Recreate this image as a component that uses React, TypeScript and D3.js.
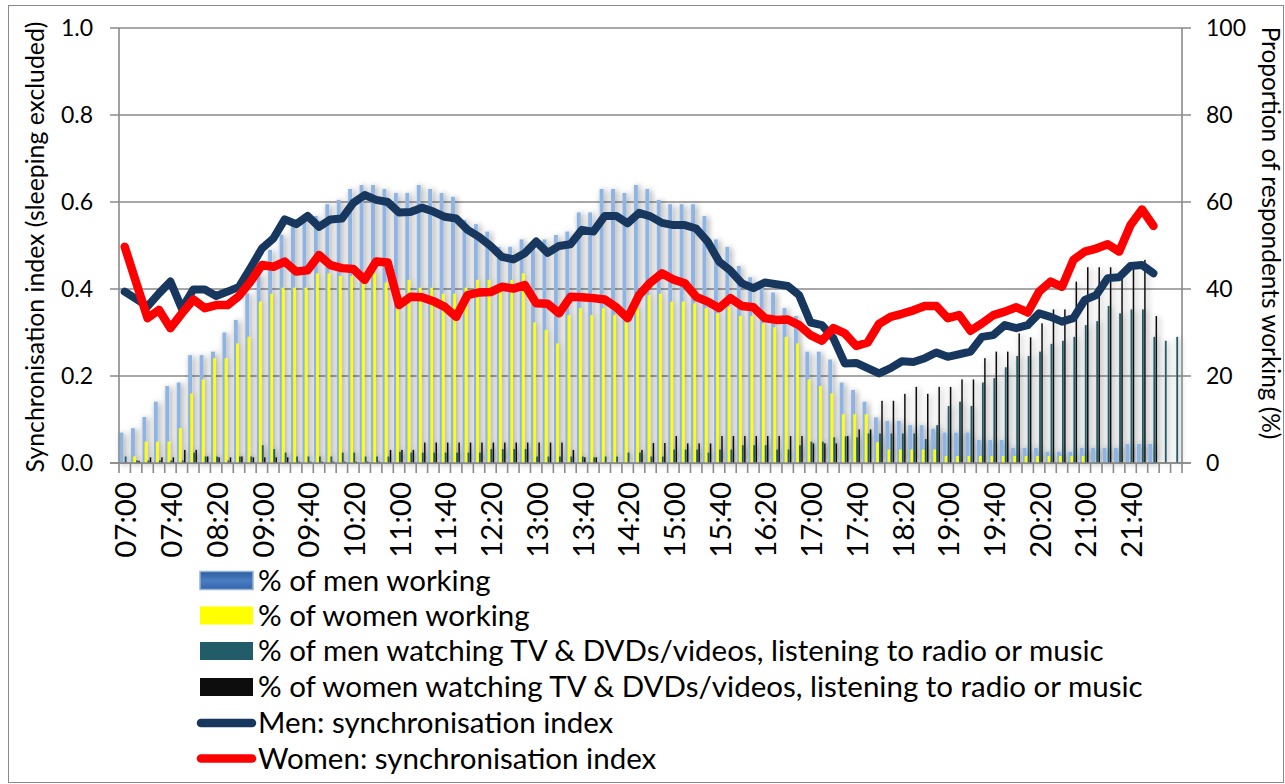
import { useEffect, useRef } from 'react'
import * as d3 from 'd3'

// 10-minute slots from 07:00 to 22:20
const slots = d3.range(93).map((i) => {
  const m = 420 + i * 10
  return `${String(Math.floor(m / 60)).padStart(2, '0')}:${String(m % 60).padStart(2, '0')}`
})

// right axis: % of respondents
const menWorking = [
  7.0, 8.0, 10.6, 14.1, 17.7, 18.5, 24.8, 24.8, 25.6, 30.0,
  32.9, 39.0, 43.5, 49.0, 52.5, 55.1, 56.6, 56.8, 59.5, 60.5,
  63.0, 63.9, 63.9, 63.0, 62.1, 62.1, 63.9, 63.0, 62.1, 61.2,
  55.9, 54.9, 53.2, 49.7, 49.7, 51.4, 49.5, 51.4, 52.4, 53.2,
  57.6, 57.6, 63.0, 63.0, 62.1, 63.9, 63.0, 60.5, 59.5, 59.5,
  59.5, 56.8, 51.4, 49.7, 45.3, 42.7, 40.5, 39.2, 35.6, 33.8,
  25.6, 25.6, 23.8, 18.5, 16.8, 14.1, 10.5, 9.7, 9.7, 8.7,
  8.7, 7.9, 7.0, 7.0, 7.0, 5.3, 5.3, 5.3, 3.5, 3.5,
  3.5, 2.6, 2.6, 2.6, 3.5, 3.5, 3.5, 3.5, 4.4, 4.4,
  4.4, 0, 0,
]
const womenWorking = [
  0, 1.5, 4.9, 4.9, 4.9, 8.0, 16.0, 19.2, 24.1, 24.1,
  27.5, 29.0, 37.1, 38.9, 40.3, 40.3, 40.3, 43.6, 43.6, 43.0,
  43.0, 42.0, 43.6, 41.5, 36.0, 42.1, 40.3, 40.3, 38.9, 38.9,
  40.3, 42.1, 42.1, 41.0, 42.1, 43.6, 32.3, 30.6, 27.5, 34.0,
  35.6, 34.0, 35.6, 34.0, 34.5, 35.6, 38.6, 38.9, 37.1, 37.1,
  36.7, 35.6, 34.4, 35.9, 33.8, 33.8, 32.1, 31.2, 29.0, 27.5,
  19.2, 17.7, 16.0, 11.2, 11.2, 11.2, 4.8, 3.1, 3.1, 3.1,
  3.1, 3.1, 1.6, 1.6, 1.6, 1.6, 1.6, 1.6, 1.6, 1.6,
  1.6, 1.6, 1.6, 1.6, 1.6, 0, 0, 0, 0, 0,
  0, 0, 0,
]
const menTv = [
  1.5, 0.6, 0.6, 0.6, 0.6, 0.6, 2.4, 1.5, 1.5, 0.6,
  1.5, 1.5, 4.1, 3.2, 2.4, 1.5, 1.5, 1.5, 1.5, 2.4,
  2.4, 1.5, 1.5, 1.5, 2.6, 2.4, 2.4, 2.4, 2.4, 2.4,
  2.4, 2.4, 3.2, 3.2, 3.2, 3.2, 1.5, 1.5, 1.5, 1.5,
  1.5, 1.3, 1.5, 1.5, 2.4, 2.4, 1.5, 1.5, 3.1, 3.1,
  3.1, 2.4, 3.1, 3.1, 4.1, 4.1, 4.1, 3.1, 3.1, 4.1,
  4.9, 4.9, 5.9, 6.1, 5.9, 6.8, 6.8, 6.8, 6.8, 6.8,
  5.5, 8.7, 13.1, 14.1, 13.1, 18.5, 19.5, 22.0, 24.6, 24.6,
  25.6, 27.4, 28.1, 29.0, 31.7, 32.6, 36.1, 34.4, 35.3, 35.3,
  29.0, 28.1, 29.0,
]
const womenTv = [
  0, 0.5, 1.3, 1.3, 1.3, 3.0, 3.0, 1.5, 1.3, 1.3,
  1.5, 1.3, 1.3, 1.3, 1.3, 0.3, 0.3, 0.3, 0.3, 0.3,
  0.3, 0.3, 0.3, 3.0, 3.0, 3.0, 4.7, 4.7, 4.7, 4.7,
  4.7, 4.7, 4.7, 4.7, 4.7, 4.7, 4.7, 4.7, 4.7, 3.0,
  1.3, 1.3, 0, 0, 0, 3.0, 4.6, 4.6, 6.2, 4.5,
  4.5, 4.5, 6.2, 6.2, 6.2, 6.2, 6.2, 6.2, 6.2, 6.2,
  4.5, 4.5, 4.5, 6.2, 7.7, 7.7, 14.3, 14.3, 15.9, 17.5,
  15.9, 17.5, 17.5, 19.2, 19.2, 24.1, 25.6, 25.6, 29.8, 28.9,
  32.1, 35.3, 35.3, 41.7, 45.0, 45.0, 45.0, 44.0, 45.0, 46.7,
  33.8, 0, 0,
]

// left axis: synchronisation index (lines stop at 22:00)
const menSync = [
  0.394, 0.377, 0.36, 0.39, 0.417, 0.355, 0.399, 0.399, 0.384, 0.394,
  0.405, 0.448, 0.493, 0.516, 0.56, 0.549, 0.568, 0.543, 0.56, 0.562,
  0.598, 0.616, 0.605, 0.6, 0.576, 0.577, 0.587, 0.578, 0.566, 0.562,
  0.536, 0.52, 0.499, 0.474, 0.468, 0.482, 0.509, 0.483, 0.499, 0.503,
  0.536, 0.532, 0.568, 0.568, 0.551, 0.575, 0.567, 0.552, 0.547, 0.547,
  0.539, 0.509, 0.463, 0.442, 0.413, 0.402, 0.415, 0.411, 0.407, 0.386,
  0.323, 0.317, 0.287, 0.229, 0.23, 0.218, 0.206, 0.218, 0.234, 0.232,
  0.241, 0.254, 0.244, 0.25, 0.256, 0.29, 0.294, 0.317, 0.31, 0.317,
  0.344, 0.336, 0.325, 0.333, 0.375, 0.386, 0.425, 0.427, 0.453, 0.455,
  0.436, null, null,
]
const womenSync = [
  0.497, 0.415, 0.333, 0.352, 0.31, 0.344, 0.376, 0.356, 0.363, 0.363,
  0.384, 0.417, 0.455, 0.451, 0.463, 0.44, 0.443, 0.478, 0.455, 0.448,
  0.446, 0.421, 0.463, 0.461, 0.363, 0.382, 0.381, 0.372, 0.359, 0.336,
  0.386, 0.392, 0.393, 0.405, 0.401, 0.409, 0.367, 0.366, 0.344, 0.382,
  0.381, 0.379, 0.376, 0.358, 0.333, 0.386, 0.415, 0.436, 0.422, 0.413,
  0.382, 0.371, 0.356, 0.379, 0.361, 0.358, 0.333, 0.329, 0.33, 0.317,
  0.294, 0.281, 0.31, 0.298, 0.269, 0.277, 0.32, 0.336, 0.343, 0.351,
  0.361, 0.361, 0.333, 0.34, 0.304, 0.321, 0.34, 0.348, 0.358, 0.346,
  0.394, 0.417, 0.405, 0.467, 0.486, 0.493, 0.503, 0.486, 0.547, 0.583,
  0.545, null, null,
]

const leftTicks = [0, 0.2, 0.4, 0.6, 0.8, 1.0]
const rightTicks = [0, 20, 40, 60, 80, 100]

const FONT = 'Lato, "Open Sans", sans-serif'
const GRID = '#8a8a8a'

// offset / width of each bar inside its slot, as a fraction of the slot
const barSeries = [
  { name: '% of men working', values: menWorking, color: '#8db4e2', off: 0.05, w: 0.34 },
  { name: '% of women working', values: womenWorking, color: '#ffff00', off: 0.24, w: 0.23 },
  { name: '% of men watching TV & DVDs/videos, listening to radio or music', values: menTv, color: '#235c69', off: 0.5, w: 0.16 },
  { name: '% of women watching TV & DVDs/videos, listening to radio or music', values: womenTv, color: '#0d0d0d', off: 0.69, w: 0.13 },
]
const lineSeries = [
  { name: 'Men: synchronisation index', values: menSync, color: '#17375e', width: 8 },
  { name: 'Women: synchronisation index', values: womenSync, color: '#ff0000', width: 8.5 },
]

export default function App() {
  const ref = useRef<SVGSVGElement | null>(null)
  useEffect(() => {
    const width = 1285
    const height = 784
    const svg = d3.select(ref.current).attr('width', width).attr('height', height)
    svg.selectAll('*').remove()

    const left = 119
    const right = 1182
    const top = 28
    const bottom = 463

    const x = d3.scaleBand<string>().domain(slots).range([left, right]).padding(0)
    const bw = x.bandwidth()
    const yL = d3.scaleLinear().domain([0, 1]).range([bottom, top])
    const yR = d3.scaleLinear().domain([0, 100]).range([bottom, top])

    const defs = svg.append('defs')
    const sh = defs.append('filter').attr('id', 'barShadow').attr('x', '-20%').attr('y', '-20%').attr('width', '140%').attr('height', '140%')
    sh.append('feGaussianBlur').attr('in', 'SourceAlpha').attr('stdDeviation', 3).attr('result', 'blur')
    sh.append('feOffset').attr('in', 'blur').attr('dx', 2).attr('dy', 1).attr('result', 'off')
    sh.append('feComponentTransfer').attr('in', 'off').attr('result', 'soft')
      .append('feFuncA').attr('type', 'linear').attr('slope', 0.45)
    const mg = sh.append('feMerge')
    mg.append('feMergeNode').attr('in', 'soft')
    mg.append('feMergeNode').attr('in', 'SourceGraphic')

    const lg = defs.append('linearGradient').attr('id', 'blueSwatch').attr('x1', 0).attr('y1', 0).attr('x2', 0).attr('y2', 1)
    lg.append('stop').attr('offset', '0%').attr('stop-color', '#2d5d9c')
    lg.append('stop').attr('offset', '50%').attr('stop-color', '#4a7dc4')
    lg.append('stop').attr('offset', '100%').attr('stop-color', '#3566aa')

    // outer chart border
    svg.append('rect')
      .attr('x', 8.5).attr('y', 5.5).attr('width', 1275).attr('height', 777)
      .attr('fill', '#fff').attr('stroke', GRID).attr('stroke-width', 1)

    // gridlines (extend into left/right tick marks)
    svg.append('g').selectAll('line').data(leftTicks).enter().append('line')
      .attr('x1', left - 9).attr('x2', right + 9)
      .attr('y1', (d) => yL(d)).attr('y2', (d) => yL(d))
      .attr('stroke', GRID).attr('stroke-width', 1.5)

    // bars
    const barsG = svg.append('g').attr('filter', 'url(#barShadow)')
    for (const s of barSeries) {
      barsG.append('g').selectAll('rect').data(s.values).enter().append('rect')
        .attr('x', (_d, i) => (x(slots[i]) ?? 0) + s.off * bw)
        .attr('width', s.w * bw)
        .attr('y', (d) => yR(d))
        .attr('height', (d) => bottom - yR(d))
        .attr('fill', s.color)
    }

    // axes lines
    const ax = svg.append('g').attr('stroke', GRID).attr('stroke-width', 1.6)
    ax.append('line').attr('x1', left).attr('x2', left).attr('y1', top).attr('y2', bottom)
    ax.append('line').attr('x1', right).attr('x2', right).attr('y1', top).attr('y2', bottom)
    ax.append('line').attr('x1', left - 9).attr('x2', right + 9).attr('y1', bottom).attr('y2', bottom)
    ax.selectAll('line.tk').data(d3.range(slots.length + 1)).enter().append('line')
      .attr('class', 'tk')
      .attr('x1', (i) => left + i * bw).attr('x2', (i) => left + i * bw)
      .attr('y1', bottom).attr('y2', bottom + 10)

    // lines
    for (const s of lineSeries) {
      const line = d3.line<number | null>()
        .defined((d) => d != null)
        .x((_d, i) => (x(slots[i]) ?? 0) + bw / 2)
        .y((d) => yL(d as number))
      svg.append('path').datum(s.values)
        .attr('d', line as any)
        .attr('fill', 'none').attr('stroke', s.color).attr('stroke-width', s.width)
        .attr('stroke-linejoin', 'round').attr('stroke-linecap', 'round')
    }

    // tick labels
    svg.append('g').selectAll('text').data(leftTicks).enter().append('text')
      .attr('x', 93).attr('y', (d) => yL(d)).attr('dy', '0.36em')
      .attr('text-anchor', 'end').attr('font-family', FONT).attr('font-size', 23).attr('fill', '#000')
      .text((d) => d.toFixed(1))
    svg.append('g').selectAll('text').data(rightTicks).enter().append('text')
      .attr('x', 1206).attr('y', (d) => yR(d)).attr('dy', '0.36em')
      .attr('text-anchor', 'start').attr('font-family', FONT).attr('font-size', 23).attr('fill', '#000')
      .text((d) => String(d))
    svg.append('g').selectAll('text').data(slots.filter((_s, i) => i % 4 === 0 && i <= 88)).enter().append('text')
      .attr('transform', (d) => `translate(${(x(d) ?? 0) + bw / 2 + 1},482) rotate(-90)`)
      .attr('dy', '0.36em')
      .attr('text-anchor', 'end').attr('font-family', FONT).attr('font-size', 29.5).attr('fill', '#000')
      .text((d) => d)

    // axis titles
    svg.append('text')
      .attr('transform', 'translate(35,247) rotate(-90)').attr('dy', '0.36em')
      .attr('text-anchor', 'middle').attr('font-family', FONT).attr('font-size', 24.8).attr('fill', '#000')
      .text('Synchronisation index (sleeping excluded)')
    svg.append('text')
      .attr('transform', 'translate(1271,233) rotate(90)').attr('dy', '0.36em')
      .attr('text-anchor', 'middle').attr('font-family', FONT).attr('font-size', 24.4).attr('fill', '#000')
      .text('Proportion of respondents working (%)')

    // legend
    const rows = [580.5, 615.5, 651, 687, 723, 758.5]
    const leg = svg.append('g')
    barSeries.forEach((s, i) => {
      leg.append('rect')
        .attr('x', 200).attr('y', rows[i] - 9).attr('width', 53).attr('height', 18)
        .attr('fill', i === 0 ? 'url(#blueSwatch)' : s.color)
        .attr('stroke', i === 0 ? '#95b3d7' : 'none').attr('stroke-width', 1.5)
    })
    lineSeries.forEach((s, j) => {
      leg.append('line')
        .attr('x1', 201).attr('x2', 252).attr('y1', rows[4 + j]).attr('y2', rows[4 + j])
        .attr('stroke', s.color).attr('stroke-width', 8.5).attr('stroke-linecap', 'round')
    })
    const names = [...barSeries.map((s) => s.name), ...lineSeries.map((s) => s.name)]
    names.forEach((n, i) => {
      leg.append('text')
        .attr('x', 258).attr('y', rows[i] + 10)
        .attr('font-family', FONT).attr('font-size', 29.5).attr('fill', '#000')
        .text(n)
    })
  }, [])
  return <svg ref={ref} style={{ position: 'absolute', left: 0, top: 0 }} />
}
